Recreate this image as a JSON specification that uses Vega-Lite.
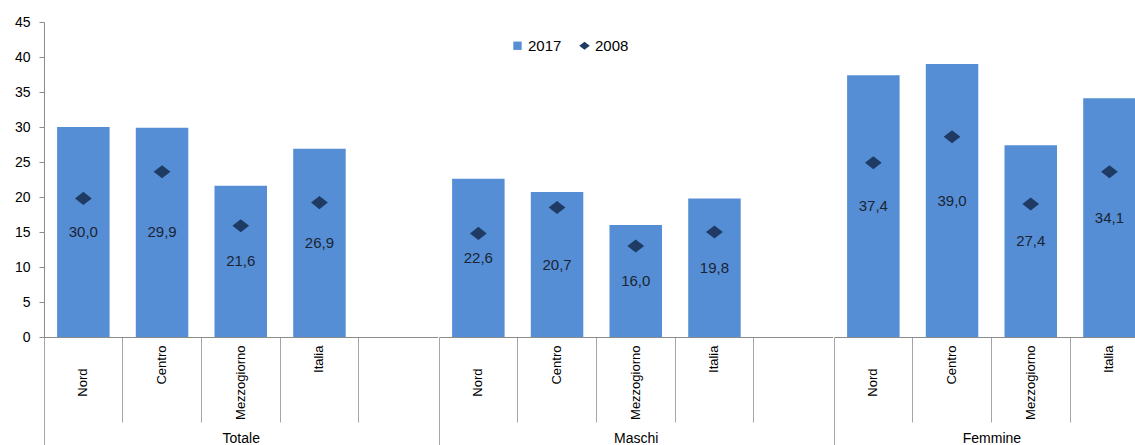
{
  "$schema": "https://vega.github.io/schema/vega-lite/v6.json",
  "padding": {"left": 14, "top": 15, "right": 0, "bottom": 0},
  "spacing": 0,
  "config": {
    "view": {"stroke": null},
    "font": "Liberation Sans",
    "locale": {"number": {"decimal": ",", "thousands": ".", "grouping": [3], "currency": ["€", ""]}},
    "axis": {"grid": false},
    "axisY": {"values": [0, 5, 10, 15, 20, 25, 30, 35, 40, 45], "labelFontSize": 14, "labelColor": "#000000", "tickSize": 5, "labelPadding": 9, "tickColor": "#8c8c8c", "domainColor": "#8c8c8c", "title": null}
  },
  "datasets": {
    "d": [
      {"gruppo": "Totale", "area": "Nord", "v2017": 30.0, "v2008": 19.8},
      {"gruppo": "Totale", "area": "Centro", "v2017": 29.9, "v2008": 23.6},
      {"gruppo": "Totale", "area": "Mezzogiorno", "v2017": 21.6, "v2008": 15.9},
      {"gruppo": "Totale", "area": "Italia", "v2017": 26.9, "v2008": 19.2},
      {"gruppo": "Maschi", "area": "Nord", "v2017": 22.6, "v2008": 14.8},
      {"gruppo": "Maschi", "area": "Centro", "v2017": 20.7, "v2008": 18.5},
      {"gruppo": "Maschi", "area": "Mezzogiorno", "v2017": 16.0, "v2008": 13.0},
      {"gruppo": "Maschi", "area": "Italia", "v2017": 19.8, "v2008": 15.0},
      {"gruppo": "Femmine", "area": "Nord", "v2017": 37.4, "v2008": 24.9},
      {"gruppo": "Femmine", "area": "Centro", "v2017": 39.0, "v2008": 28.6},
      {"gruppo": "Femmine", "area": "Mezzogiorno", "v2017": 27.4, "v2008": 19.0},
      {"gruppo": "Femmine", "area": "Italia", "v2017": 34.1, "v2008": 23.6}
    ]
  },
  "hconcat": [
    {
      "width": 393.5,
      "height": 315,
      "data": {"name": "d"},
      "transform": [{"filter": "datum.gruppo === 'Totale'"}],
      "encoding": {
        "x": {
          "field": "area", "type": "nominal",
          "scale": {"domain": ["Nord", "Centro", "Mezzogiorno", "Italia", "_"], "paddingInner": 0, "paddingOuter": 0},
          "axis": {
            "title": "Totale", "titleFontSize": 14, "titleFontWeight": "normal", "titleColor": "#000000", "titleY": 105, "titleBaseline": "alphabetic",
            "labelAngle": 270, "labelFontSize": 13, "labelColor": "#000000", "labelPadding": -77,
            "labelExpr": "datum.value === '_' ? '' : datum.value",
            "bandPosition": 0, "tickExtra": false,
            "tickSize": {"condition": {"test": "datum.value === 'Nord'", "value": 108}, "value": 85},
            "tickColor": "#a6a6a6", "domainColor": "#8c8c8c"
          }
        }
      },
      "layer": [
        {
          "mark": {"type": "bar", "width": {"band": 0.667}},
          "encoding": {
            "y": {"field": "v2017", "type": "quantitative", "scale": {"domain": [0, 45], "nice": false}, "axis": {"title": null}},
            "color": {"datum": "2017", "type": "nominal",
              "scale": {"domain": ["2017", "2008"], "range": ["#558ED5", "#1F3B63"]},
              "legend": {"title": null, "orient": "none", "legendX": 466, "legendY": 16, "direction": "horizontal",
                "labelFontSize": 15, "labelColor": "#000000", "columnPadding": 15, "labelOffset": 3,
                "encode": {"symbols": {"update": {
                  "shape": {"signal": "datum.value === '2008' ? 'M-1,0L0,-0.75L1,0L0,0.75Z' : 'square'"},
                  "size": {"signal": "datum.value === '2008' ? 110 : 70"},
                  "strokeWidth": {"value": 0}
                }}}}}
          }
        },
        {
          "mark": {"type": "point", "filled": true, "opacity": 1, "shape": "M-1,0L0,-0.78L1,0L0,0.78Z", "size": 280},
          "encoding": {
            "y": {"field": "v2008", "type": "quantitative", "scale": {"domain": [0, 45], "nice": false}, "axis": {"title": null}},
            "color": {"datum": "2008", "type": "nominal"}
          }
        },
        {
          "mark": {"type": "text", "fontSize": 15, "color": "#1B2433", "baseline": "middle"},
          "encoding": {
            "y": {"field": "v2017", "type": "quantitative", "stack": "zero", "bandPosition": 0.5, "scale": {"domain": [0, 45], "nice": false}, "axis": {"title": null}},
            "text": {"field": "v2017", "type": "quantitative", "format": ".1f"}
          }
        }
      ]
    },
    {
      "width": 393.5,
      "height": 315,
      "data": {"name": "d"},
      "transform": [{"filter": "datum.gruppo === 'Maschi'"}],
      "encoding": {
        "x": {
          "field": "area", "type": "nominal",
          "scale": {"domain": ["Nord", "Centro", "Mezzogiorno", "Italia", "_"], "paddingInner": 0, "paddingOuter": 0},
          "axis": {
            "title": "Maschi", "titleFontSize": 14, "titleFontWeight": "normal", "titleColor": "#000000", "titleY": 105, "titleBaseline": "alphabetic",
            "labelAngle": 270, "labelFontSize": 13, "labelColor": "#000000", "labelPadding": -77,
            "labelExpr": "datum.value === '_' ? '' : datum.value",
            "bandPosition": 0, "tickExtra": false,
            "tickSize": {"condition": {"test": "datum.value === 'Nord'", "value": 108}, "value": 85},
            "tickColor": "#a6a6a6", "domainColor": "#8c8c8c"
          }
        }
      },
      "layer": [
        {
          "mark": {"type": "bar", "width": {"band": 0.667}},
          "encoding": {
            "y": {"field": "v2017", "type": "quantitative", "scale": {"domain": [0, 45], "nice": false}, "axis": null},
            "color": {"datum": "2017", "type": "nominal"}
          }
        },
        {
          "mark": {"type": "point", "filled": true, "opacity": 1, "shape": "M-1,0L0,-0.78L1,0L0,0.78Z", "size": 280},
          "encoding": {
            "y": {"field": "v2008", "type": "quantitative", "scale": {"domain": [0, 45], "nice": false}, "axis": null},
            "color": {"datum": "2008", "type": "nominal"}
          }
        },
        {
          "mark": {"type": "text", "fontSize": 15, "color": "#1B2433", "baseline": "middle"},
          "encoding": {
            "y": {"field": "v2017", "type": "quantitative", "stack": "zero", "bandPosition": 0.5, "scale": {"domain": [0, 45], "nice": false}, "axis": null},
            "text": {"field": "v2017", "type": "quantitative", "format": ".1f"}
          }
        }
      ]
    },
    {
      "width": 304,
      "height": 315,
      "data": {"name": "d"},
      "transform": [{"filter": "datum.gruppo === 'Femmine'"}],
      "encoding": {
        "x": {
          "field": "area", "type": "nominal",
          "scale": {"domain": ["Nord", "Centro", "Mezzogiorno", "Italia"], "paddingInner": 0, "paddingOuter": 0, "range": [0, 314.8]},
          "axis": {
            "title": "Femmine", "titleFontSize": 14, "titleFontWeight": "normal", "titleColor": "#000000", "titleY": 105, "titleBaseline": "alphabetic",
            "labelAngle": 270, "labelFontSize": 13, "labelColor": "#000000", "labelPadding": -77,
            "bandPosition": 0, "tickExtra": false,
            "tickSize": {"condition": {"test": "datum.value === 'Nord'", "value": 108}, "value": 85},
            "tickColor": "#a6a6a6", "domainColor": "#8c8c8c"
          }
        }
      },
      "layer": [
        {
          "mark": {"type": "bar", "width": {"band": 0.667}},
          "encoding": {
            "y": {"field": "v2017", "type": "quantitative", "scale": {"domain": [0, 45], "nice": false}, "axis": null},
            "color": {"datum": "2017", "type": "nominal"}
          }
        },
        {
          "mark": {"type": "point", "filled": true, "opacity": 1, "shape": "M-1,0L0,-0.78L1,0L0,0.78Z", "size": 280},
          "encoding": {
            "y": {"field": "v2008", "type": "quantitative", "scale": {"domain": [0, 45], "nice": false}, "axis": null},
            "color": {"datum": "2008", "type": "nominal"}
          }
        },
        {
          "mark": {"type": "text", "fontSize": 15, "color": "#1B2433", "baseline": "middle"},
          "encoding": {
            "y": {"field": "v2017", "type": "quantitative", "stack": "zero", "bandPosition": 0.5, "scale": {"domain": [0, 45], "nice": false}, "axis": null},
            "text": {"field": "v2017", "type": "quantitative", "format": ".1f"}
          }
        }
      ]
    }
  ]
}
